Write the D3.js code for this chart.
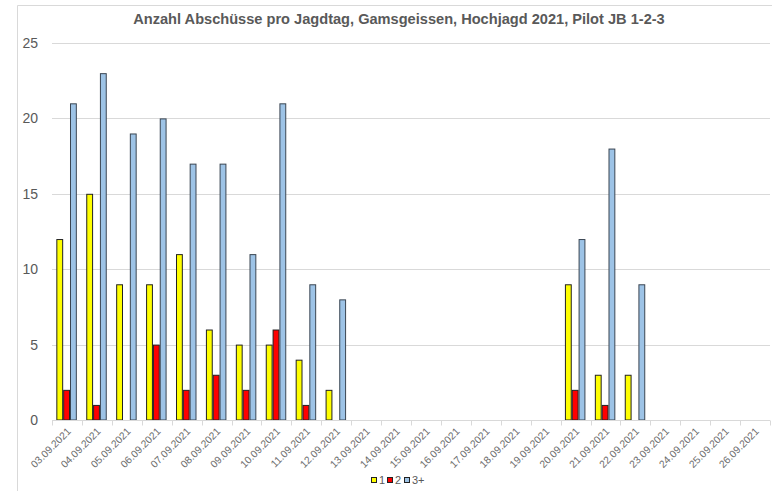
<!DOCTYPE html>
<html><head><meta charset="utf-8">
<script src="https://cdn.jsdelivr.net/npm/d3@7"></script>
<style>body{margin:0;background:#fff;}svg{display:block;font-family:"Liberation Sans",Arial,sans-serif;}</style>
</head><body><svg id="c" width="772" height="491"></svg>
<script>
const dates = ["03.09.2021","04.09.2021","05.09.2021","06.09.2021","07.09.2021","08.09.2021","09.09.2021","10.09.2021","11.09.2021","12.09.2021","13.09.2021","14.09.2021","15.09.2021","16.09.2021","17.09.2021","18.09.2021","19.09.2021","20.09.2021","21.09.2021","22.09.2021","23.09.2021","24.09.2021","25.09.2021","26.09.2021"];
const seriesKeys = ["1","2","3+"];
const values1  = [12,15,9,9,11,6,5,5,4,2,null,null,null,null,null,null,null,9,3,3,null,null,null,null];
const values2  = [2,1,null,5,2,3,2,6,1,null,null,null,null,null,null,null,null,2,1,null,null,null,null,null];
const values3p = [21,23,19,20,17,17,11,21,9,8,null,null,null,null,null,null,null,12,18,9,null,null,null,null];
const yTicks = [0,5,10,15,20,25];
const colors = ["#FFFF00","#FF0000","#9DC3E6"];
const title = "Anzahl Abschüsse pro Jagdtag, Gamsgeissen, Hochjagd 2021, Pilot JB 1-2-3";

const seriesValues = [values1, values2, values3p];
const svg = d3.select("#c");

// chart frame
svg.append("path").attr("d","M17.5,800 L17.5,5.5 L800,5.5").attr("fill","none").attr("stroke","#d9d9d9");

const x0 = d3.scaleBand().domain(dates).range([52,770]).paddingInner(0).paddingOuter(0);
const bw = x0.bandwidth();
const x1 = d3.scaleBand().domain(seriesKeys).range([bw*0.145, bw*0.83]);
const y = d3.scaleLinear().domain([0,25]).range([420,43]);

// gridlines
svg.append("g").selectAll("line").data(yTicks.filter(d=>d>0)).join("line")
  .attr("x1",52).attr("x2",770).attr("y1",d=>Math.round(y(d))+0.5).attr("y2",d=>Math.round(y(d))+0.5)
  .attr("stroke","#d9d9d9").attr("stroke-width",1);

// y labels
svg.append("g").selectAll("text").data(yTicks).join("text")
  .attr("x",38).attr("y",d=>y(d)).attr("dy","0.36em").attr("text-anchor","end")
  .attr("font-size",14).attr("fill","#595959").text(d=>d);

// bars
const flat = [];
dates.forEach((d,i)=>seriesKeys.forEach((k,j)=>{ const v = seriesValues[j][i]; if(v!=null) flat.push({d,k,v,j}); }));
svg.append("g").selectAll("rect").data(flat).join("rect")
  .attr("x",d=>x0(d.d)+x1(d.k)+0.5)
  .attr("y",d=>y(d.v)+0.5)
  .attr("width",x1.bandwidth()-1)
  .attr("height",d=>y(0)-y(d.v)-0.5)
  .attr("fill",d=>colors[d.j])
  .attr("stroke",d=>d.j===2?"#3a4552":"#222")
  .attr("stroke-width",1);

// x axis
const xAxis = svg.append("g").attr("transform","translate(0,420.5)");
xAxis.append("line").attr("x1",52).attr("x2",770).attr("stroke","#d9d9d9");
xAxis.selectAll("line.tick").data(d3.range(dates.length+1)).join("line").attr("class","tick")
  .attr("x1",i=>Math.round(52+i*bw)+0.5).attr("x2",i=>Math.round(52+i*bw)+0.5).attr("y1",0).attr("y2",5)
  .attr("stroke","#d9d9d9");
xAxis.selectAll("text").data(dates).join("text")
  .attr("transform",d=>`translate(${x0(d)+bw/2+2},${9}) rotate(-45)`)
  .attr("text-anchor","end").attr("dy","0.35em")
  .attr("font-size",10.3).attr("fill","#6b6b6b").text(d=>d);

// title
svg.append("text").attr("x",399).attr("y",24).attr("text-anchor","middle")
  .attr("font-size",14.6).attr("font-weight","bold").attr("fill","#595959").text(title);

// legend
const leg = svg.append("g");
const legX = [371,387,404];
seriesKeys.forEach((k,j)=>{
  leg.append("rect").attr("x",legX[j]+0.5).attr("y",477.5).attr("width",5).attr("height",5)
    .attr("fill",colors[j]).attr("stroke","#222");
  leg.append("text").attr("x",legX[j]+8).attr("y",480).attr("dy","0.36em")
    .attr("font-size",11).attr("fill","#595959").text(k);
});
</script></body></html>
